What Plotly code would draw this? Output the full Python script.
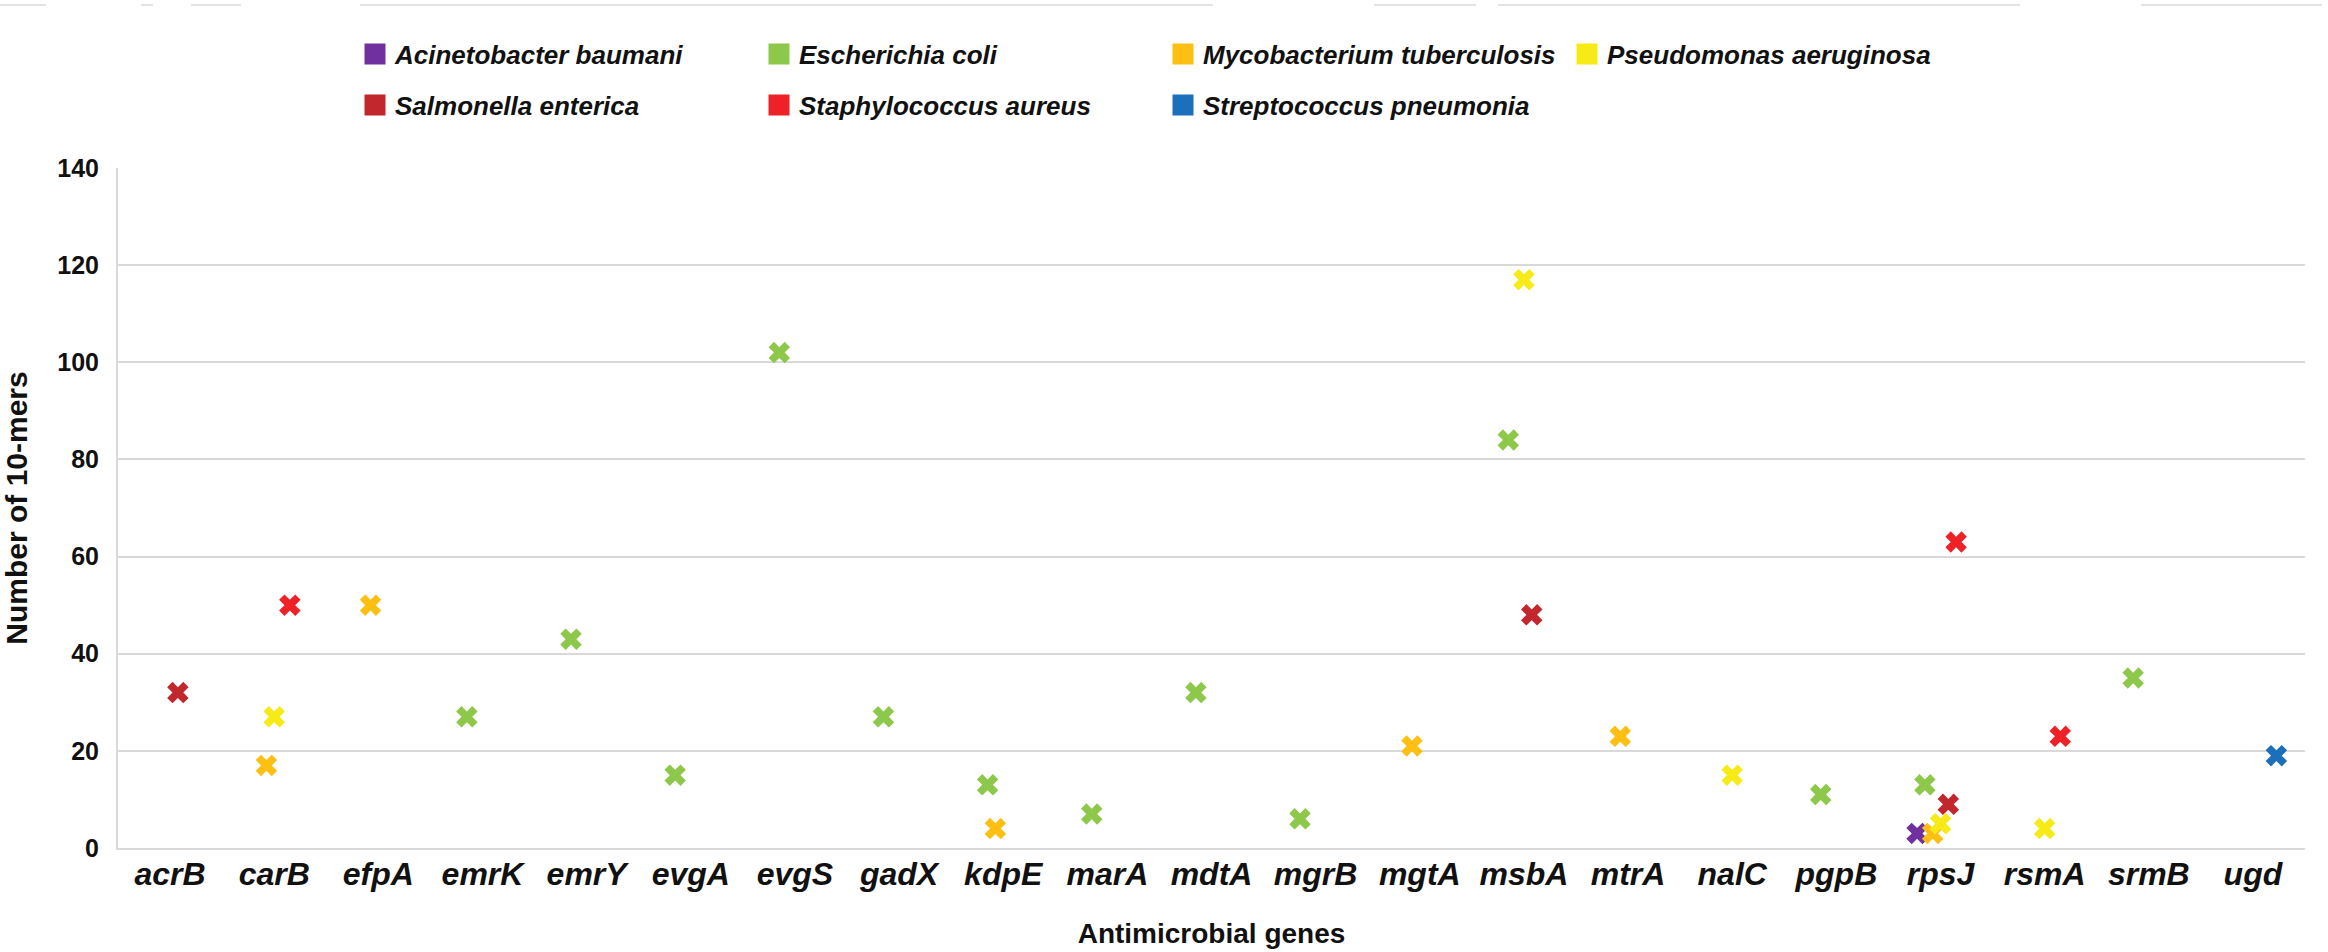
import plotly.graph_objects as go

genes = ["acrB", "carB", "efpA", "emrK", "emrY", "evgA", "evgS", "gadX", "kdpE", "marA",
         "mdtA", "mgrB", "mgtA", "msbA", "mtrA", "nalC", "pgpB", "rpsJ", "rsmA", "srmB", "ugd"]

species = ["Acinetobacter baumani", "Escherichia coli", "Mycobacterium tuberculosis",
           "Pseudomonas aeruginosa", "Salmonella enterica", "Staphylococcus aureus",
           "Streptococcus pneumonia"]

acinetobacter_genes = ["rpsJ"]
acinetobacter_vals = [3]

ecoli_genes = ["emrK", "emrY", "evgA", "evgS", "gadX", "kdpE", "marA", "mdtA", "mgrB",
               "msbA", "pgpB", "rpsJ", "srmB"]
ecoli_vals = [27, 43, 15, 102, 27, 13, 7, 32, 6, 84, 11, 13, 35]

myco_genes = ["carB", "efpA", "kdpE", "mgtA", "mtrA", "rpsJ"]
myco_vals = [17, 50, 4, 21, 23, 3]

pseudo_genes = ["carB", "msbA", "nalC", "rpsJ", "rsmA"]
pseudo_vals = [27, 117, 15, 5, 4]

salmonella_genes = ["acrB", "msbA", "rpsJ"]
salmonella_vals = [32, 48, 9]

staph_genes = ["carB", "rpsJ", "rsmA"]
staph_vals = [50, 63, 23]

strep_genes = ["ugd"]
strep_vals = [19]

colors = ["#7030A0", "#8DC84B", "#FDBF12", "#F6EB16", "#C1272D", "#EE2226", "#1C6FBA"]

series = [
    (acinetobacter_genes, acinetobacter_vals),
    (ecoli_genes, ecoli_vals),
    (myco_genes, myco_vals),
    (pseudo_genes, pseudo_vals),
    (salmonella_genes, salmonella_vals),
    (staph_genes, staph_vals),
    (strep_genes, strep_vals),
]

FONT = "Liberation Sans"
TXT = "#111111"
GRID = "#d9d9d9"

fig = go.Figure()

for i, (name, (gx, gy), col) in enumerate(zip(species, series, colors)):
    fig.add_trace(go.Scatter(
        x=gx, y=gy, mode="markers", name=name, showlegend=False,
        offsetgroup=name,
        marker=dict(symbol="x", size=19, color=col, line=dict(width=0)),
    ))

# legend entries (square swatches)
for i, (name, col) in enumerate(zip(species, colors)):
    fig.add_trace(go.Scatter(
        x=[None], y=[None], mode="markers", name=name, offsetgroup=name,
        legend="legend" if i < 4 else "legend2",
        marker=dict(symbol="square", size=16, color=col, line=dict(width=5, color=col)),
    ))

PL, PR, PT, PB = 118, 2305, 168, 848
W, H = 2328, 952
pw, ph = PR - PL, PB - PT


def px_x(p):
    return (p - PL) / pw


def px_y(p):
    return (PB - p) / ph


legend_common = dict(
    orientation="h", xanchor="left", yanchor="top",
    entrywidth=359, entrywidthmode="pixels",
    font=dict(family=FONT, size=26, color=TXT, weight="bold", style="italic"),
    bgcolor="rgba(0,0,0,0)", itemsizing="trace", tracegroupgap=0,
)

fig.update_layout(
    width=W, height=H,
    margin=dict(l=PL, r=W - PR, t=PT, b=H - PB, autoexpand=False),
    paper_bgcolor="white", plot_bgcolor="white",
    scattermode="group", scattergap=0.475,
    font=dict(family=FONT, color=TXT),
    legend=dict(x=px_x(355), y=px_y(30.5), **legend_common),
    legend2=dict(x=px_x(355), y=px_y(81.5), **legend_common),
    xaxis=dict(
        type="category", categoryorder="array", categoryarray=genes,
        range=[-0.5, len(genes) - 0.5],
        showgrid=False, zeroline=False, ticks="",
        showline=True, linecolor=GRID, linewidth=2,
        tickfont=dict(family=FONT, size=32, color=TXT, weight="bold", style="italic"),
        ticklabelstandoff=-3,
        title=dict(text="Antimicrobial genes", standoff=32,
                   font=dict(family=FONT, size=28, color=TXT, weight="bold")),
    ),
    yaxis=dict(
        range=[0, 140], dtick=20, tick0=0,
        showgrid=True, gridcolor=GRID, gridwidth=2,
        zeroline=False, showline=True, linecolor=GRID, linewidth=2, ticks="",
        tickfont=dict(family=FONT, size=25, color=TXT, weight="bold"),
        ticklabelstandoff=12,
        title=dict(text="Number of 10-mers", standoff=22,
                   font=dict(family=FONT, size=30, color=TXT, weight="bold")),
    ),
    showlegend=True,
)

# faint cropping lines along the very top edge of the original image
top_segments = [(0, 46), (141, 153), (191, 241), (360, 1213), (1374, 1476), (1498, 2020), (2141, 2322)]
for a, b in top_segments:
    fig.add_shape(type="line", xref="paper", yref="paper",
                  x0=px_x(a), x1=px_x(b), y0=px_y(5), y1=px_y(5),
                  line=dict(color="#e3e3e3", width=2))

fig.write_html("out.html", config={"displayModeBar": False},
               post_script="document.body.style.margin='0';document.body.style.padding='0';")
